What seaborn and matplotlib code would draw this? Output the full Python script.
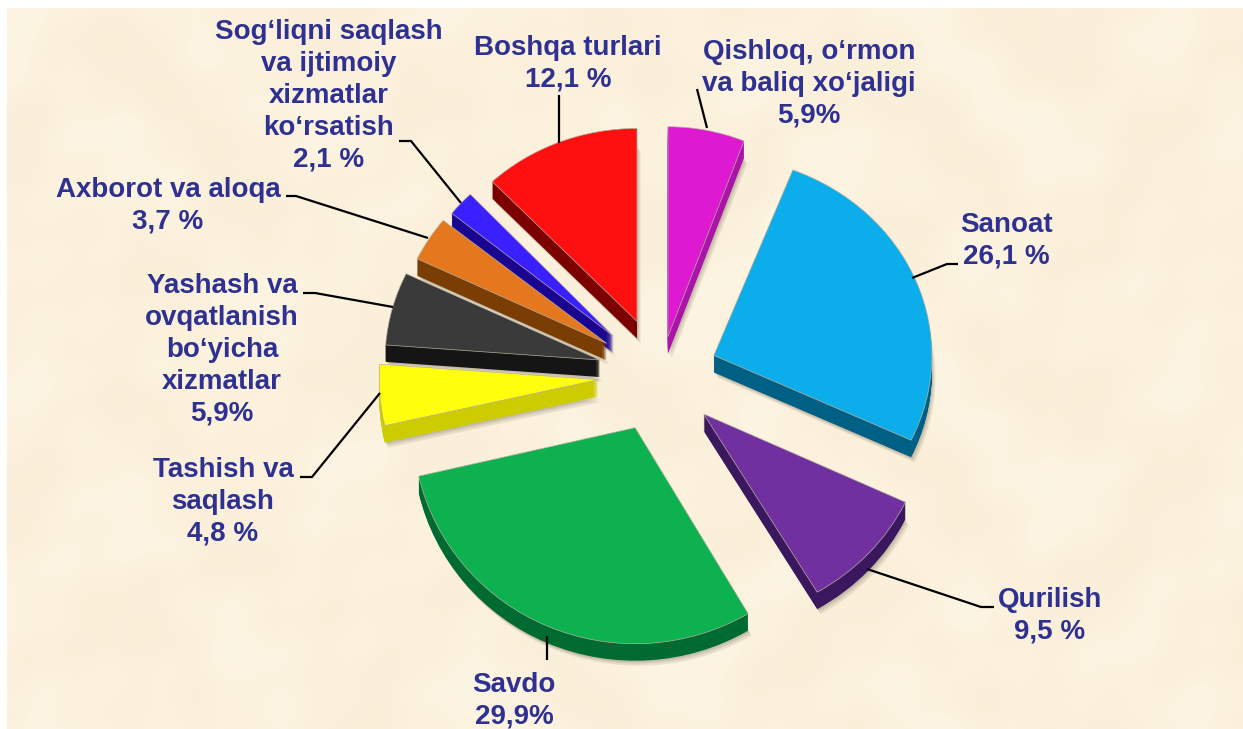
"""
Tarmoqlar ulushi: ajratilgan 3D ko'rinishdagi doiraviy diagramma
"""

import numpy as np
import matplotlib
matplotlib.use("Agg")
import matplotlib.pyplot as plt
from matplotlib.transforms import Affine2D
import seaborn as sns

W, H = 1243, 729

# Data
categories = ["Qishloq, o‘rmon\nva baliq xo‘jaligi", "Sanoat", "Qurilish", "Savdo",
              "Tashish va\nsaqlash", "Yashash va\novqatlanish\nbo‘yicha\nxizmatlar",
              "Axborot va aloqa", "Sog‘liqni saqlash\nva ijtimoiy\nxizmatlar\nko‘rsatish",
              "Boshqa turlari"]
shares = [5.9, 26.1, 9.5, 29.9, 4.8, 5.9, 3.7, 2.1, 12.1]
share_labels = ["5,9%", "26,1 %", "9,5 %", "29,9%", "4,8 %", "5,9%", "3,7 %", "2,1 %", "12,1 %"]

# Ranglar
top_colors = sns.color_palette(["#DD1AD1", "#0BAEEA", "#7030A0", "#0DB14F", "#FFFF0D",
                                "#3A3A3A", "#E5781E", "#3A1FFF", "#FF1010"])
side_colors = sns.color_palette(["#AA14A8", "#005F85", "#3B1760", "#006B30", "#CCCC00",
                                 "#151515", "#7A3D04", "#1A0590", "#7D0000"])

# Joylashuv (piksel)
CENTER = (660, H - 379)
explode = [43, 58, 55, 53, 62, 62, 63, 63, 62]
R = 200
radii_x = [210, 218, 223, 222, 219, 215, 210, 208, 210]
radii_y = [210, 199, 207, 216, 205, 200, 196, 196, 193]
nudge_x = [0, 0, 3, -4, 0, 0, 0, 0, 0]
nudge_y = [0, 2, 2, 0, 4, 3, 2, 0, 0]
DEPTH = 17
label_pos = [(809, 84), (1006, 241), (1050, 616), (514, 701), (223, 502),
             (222, 350), (168, 206), (329, 96), (568, 64)]
leaders = [[(697, 89), (707, 128)],
           [(958, 264), (947, 264), (912, 278)],
           [(994, 607), (981, 607), (867, 569)],
           [(547, 636), (547, 660)],
           [(300, 477), (312, 477), (380, 393)],
           [(303, 293), (315, 293), (393, 307)],
           [(286, 196), (296, 196), (428, 238)],
           [(399, 141), (411, 141), (461, 203)],
           [(559, 95), (559, 143)]]

sns.set_theme(style="white")
plt.rcParams["font.family"] = ["Liberation Sans", "DejaVu Sans"]

fig = plt.figure(figsize=(W / 100, H / 100), dpi=100, facecolor="white")
ax = fig.add_axes([0, 0, 1, 1])


def draw_layer(dx, dy, colors, edge=None, lw=0, alpha=None):
    wedges, _ = ax.pie(shares, colors=colors, startangle=90, counterclock=False,
                       explode=explode, radius=R, frame=True,
                       center=(CENTER[0] + dx, CENTER[1] - dy),
                       wedgeprops={"linewidth": lw, "edgecolor": edge or "none", "alpha": alpha})
    # perspektiva: har bir bo'lak o'z uchi atrofida cho'ziladi
    for w, rx, ry, nx, ny in zip(wedges, radii_x, radii_y, nudge_x, nudge_y):
        cx, cy = w.center
        squash = Affine2D().translate(-cx, -cy).scale(rx / R, ry / R).translate(cx + nx, cy + ny)
        w.set_transform(squash + ax.transData)


# Fon: qog'oz teksturasi
yy, xx = np.mgrid[0:H:3, 0:W:3]
tex = (np.sin(xx / 37.0 + np.cos(yy / 53.0) * 2) + np.sin(yy / 29.0 + np.sin(xx / 61.0) * 3)
       + 0.7 * np.sin((xx + yy) / 17.0) * np.cos((xx - yy) / 23.0))
paper = sns.blend_palette(["#FAEFD9", "#FBF1DC", "#FDF5E4"], as_cmap=True)
ax.imshow(tex, extent=(7, W, 0, H - 8), cmap=paper, aspect="auto", zorder=0, interpolation="bilinear")

# Soya va yon tomonlar
for s in (5, 3, 1.5):
    draw_layer(s * 0.7, DEPTH + s, [(0.35, 0.3, 0.22)] * len(shares), alpha=0.12)
for d in range(DEPTH, 0, -1):
    draw_layer(0, d, side_colors)
draw_layer(0, 0, top_colors, edge="#B9AF9E", lw=0.5)

for pts in leaders:
    xs, ys = zip(*pts)
    ax.plot(xs, [H - y for y in ys], color="black", lw=1.6, zorder=5,
            solid_joinstyle="miter", solid_capstyle="butt")

for name, val, (x, y) in zip(categories, share_labels, label_pos):
    ax.text(x, H - y, f"{name}\n{val}", ha="center", va="center", multialignment="center",
            fontsize=20, fontweight="bold", color="#2E3192", linespacing=1.29, zorder=6)

ax.set_xlim(0, W)
ax.set_ylim(0, H)
ax.set_aspect("auto")
ax.axis("off")

fig.savefig("out.png", dpi=100, facecolor="white")
plt.close(fig)
